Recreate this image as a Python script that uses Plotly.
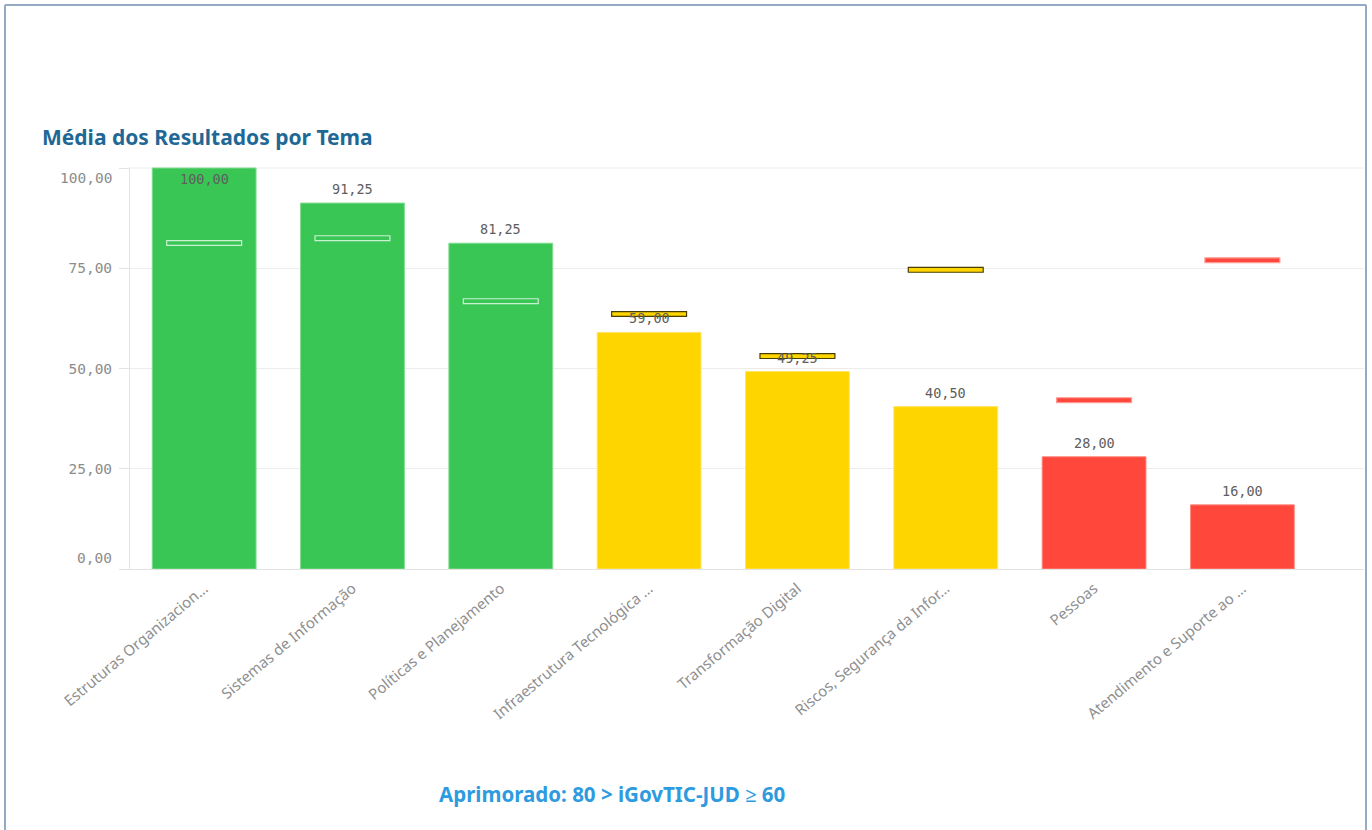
import plotly.graph_objects as go

# Temas avaliados, média obtida e meta de referência
temas = [
    "Estruturas Organizacion…",
    "Sistemas de Informação",
    "Políticas e Planejamento",
    "Infraestrutura Tecnológica …",
    "Transformação Digital",
    "Riscos, Segurança da Infor…",
    "Pessoas",
    "Atendimento e Suporte ao …",
]
medias = [100.00, 91.25, 81.25, 59.00, 49.25, 40.50, 28.00, 16.00]
metas = [81.3, 82.5, 66.8, 63.6, 53.1, 74.6, 42.1, 77.0]
y_ticks = [0, 25, 50, 75, 100]

# Faixas de classificação
VERDE, AMARELO, VERMELHO = "#3ac655", "#ffd500", "#ff473b"
BORDA_BARRA = {VERDE: "#7fdc90", AMARELO: "#ffe46a", VERMELHO: "#ff8d84"}
BORDA_META = {VERDE: "#c9f1d1", AMARELO: "#4a3f00", VERMELHO: "#ff9a92"}


def faixa(v):
    if v >= 80:
        return VERDE
    if v >= 40:
        return AMARELO
    return VERMELHO


def fmt(v):
    return f"{v:.2f}".replace(".", ",")


cores = [faixa(v) for v in medias]

W, H = 1372, 830
L, R, T, B = 130, 1364, 167, 569  # área de plotagem em pixels


def px(x):
    return (x - L) / (R - L)


def py(y):
    return (B - y) / (B - T)


fig = go.Figure()

fig.add_trace(go.Bar(
    x=temas, y=medias, width=0.70,
    marker=dict(color=cores, line=dict(color=[BORDA_BARRA[c] for c in cores], width=1)),
    hoverinfo="x+y", showlegend=False,
))

# Marcadores de meta como barras finas
esp = 1.2
fig.add_trace(go.Bar(
    x=temas, y=[esp] * len(metas), base=[m - esp / 2 for m in metas], width=0.505,
    marker=dict(color=cores, line=dict(color=[BORDA_META[c] for c in cores], width=1.2)),
    hoverinfo="skip", showlegend=False,
))

# Rótulos de valor
for t, v in zip(temas, medias):
    fig.add_annotation(
        x=t, y=v, xref="x", yref="y", text=fmt(v), showarrow=False,
        yshift=-11 if v >= 97 else 14,
        font=dict(family="DejaVu Sans Mono", size=13.5, color="#5e5e5e"),
    )

# Rótulos do eixo Y: extremos deslocados para dentro da área
tick_font = dict(family="DejaVu Sans Mono", size=14.5, color="#8c8c8c")
y_text = ["" if v in (y_ticks[0], y_ticks[-1]) else fmt(v) for v in y_ticks]
for v, shift in ((y_ticks[0], 11), (y_ticks[-1], -10)):
    fig.add_annotation(
        x=0, y=v, xref="paper", yref="y", xanchor="right", yanchor="middle",
        xshift=-16, yshift=shift, text=fmt(v), showarrow=False, font=tick_font,
    )

# Linha de grade no topo da escala
fig.add_shape(type="line", xref="paper", yref="y", x0=0, x1=1, y0=y_ticks[-1], y1=y_ticks[-1],
              line=dict(color="#ececec", width=1), layer="below")

# Título
fig.add_annotation(
    x=px(40), y=py(137), xref="paper", yref="paper", xanchor="left", yanchor="middle",
    text="<b>Média dos Resultados por Tema</b>", showarrow=False,
    font=dict(family="Noto Sans", size=21, color="#1f6896"),
)

# Legenda da faixa
fig.add_annotation(
    x=px(612), y=py(794), xref="paper", yref="paper", xanchor="center", yanchor="middle",
    text="<b>Aprimorado: 80 > iGovTIC-JUD ≥ 60</b>", showarrow=False,
    font=dict(family="Noto Sans", size=20.5, color="#2e9be0"),
)

# Moldura do painel
borda = dict(color="#93aac2", width=2)
fig.add_shape(type="line", xref="paper", yref="paper", x0=px(5), x1=px(5), y0=py(5), y1=py(832), line=borda)
fig.add_shape(type="line", xref="paper", yref="paper", x0=px(5), x1=px(1366), y0=py(5), y1=py(5), line=borda)
fig.add_shape(type="line", xref="paper", yref="paper", x0=px(1366), x1=px(1366), y0=py(5), y1=py(832), line=borda)

fig.update_layout(
    width=W, height=H,
    margin=dict(l=L, r=W - R, t=T, b=H - B),
    paper_bgcolor="white", plot_bgcolor="white",
    barmode="overlay", bargap=0.3,
    separators=",.",
    font=dict(family="Noto Sans", color="#8f8f8f"),
    xaxis=dict(
        range=[-0.5, 7.82], tickangle=-40, showgrid=False,
        showline=True, linecolor="#e3e3e3", linewidth=1,
        ticks="", ticklabelstandoff=4,
        tickfont=dict(family="Noto Sans", size=15, color="#8f8f8f"),
        fixedrange=True,
    ),
    yaxis=dict(
        range=[0, 100.25], tickvals=y_ticks, ticktext=y_text,
        showgrid=True, gridcolor="#ececec", gridwidth=1, zeroline=False,
        showline=True, linecolor="#e3e3e3", linewidth=1,
        ticks="outside", ticklen=10, tickcolor="#e3e3e3",
        tickfont=tick_font, ticklabelstandoff=4,
        fixedrange=True,
    ),
)

fig.write_html("out.html")
